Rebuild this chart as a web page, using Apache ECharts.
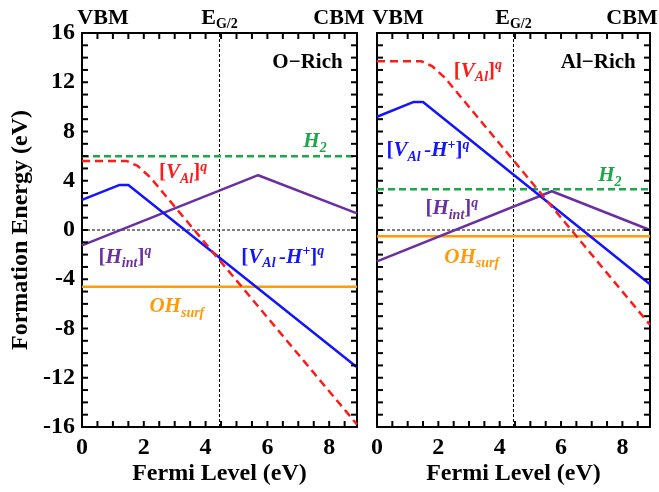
<!DOCTYPE html>
<html>
<head>
<meta charset="utf-8">
<script src="https://cdn.jsdelivr.net/npm/echarts@6/dist/echarts.min.js"></script>
<style>html,body{margin:0;padding:0;background:#fff;}#c{width:659px;height:492px;}</style>
</head>
<body>
<div id="c"></div>
<script>
// ---- data ----
const bandGap = 8.9;
const midGap = 4.45;
const xLabelStep = 2;
const yLabelStep = 4;
const yRange = [-16, 16];
const xTickValues = [0.5, 1, 1.5, 2, 2.5, 3, 3.5, 4, 4.5, 5, 5.5, 6, 6.5, 7, 7.5, 8, 8.5];
const yTickValues = [-15, -14, -13, -12, -11, -10, -9, -8, -7, -6, -5, -4, -3, -2, -1, 0,
                     1, 2, 3, 4, 5, 6, 7, 8, 9, 10, 11, 12, 13, 14, 15];
const topLabels = ['VBM', 'E', 'G/2', 'CBM'];
const panelNames = ['O\u2212Rich', 'Al\u2212Rich'];
const xTitle = 'Fermi Level (eV)';
const yTitle = 'Formation Energy (eV)';

const oRich_VAl  = [[0, 5.6], [1.45, 5.6], [1.8, 5.2], [2.2, 4.3], [8.9, -15.8]];
const oRich_VAlH = [[0, 2.45], [1.2, 3.65], [1.5, 3.65], [8.9, -11.15]];
const oRich_Hint = [[0, -1.25], [5.7, 4.45], [8.9, 1.35]];
const oRich_H2 = 6.0;
const oRich_OH = -4.6;

const alRich_VAl  = [[0, 13.7], [1.45, 13.7], [1.8, 13.3], [2.2, 12.4], [8.9, -7.7]];
const alRich_VAlH = [[0, 9.2], [1.2, 10.4], [1.5, 10.4], [8.9, -4.4]];
const alRich_Hint = [[0, -2.55], [5.7, 3.15], [8.9, 0.0]];
const alRich_H2 = 3.3;
const alRich_OH = -0.5;

// ---- style ----
const SERIF = '"Liberation Serif", "Times New Roman", serif';
const C = { red: '#ff1a1a', blue: '#1414ff', purple: '#6b2fa3', green: '#1ea64a', orange: '#ff9a0a' };
const TICK_LEN = 6;

const chart = echarts.init(document.getElementById('c'), null, { renderer: 'canvas' });

const grids = [
  { left: 82, top: 33, width: 275, height: 394 },
  { left: 377, top: 33, width: 273, height: 394 }
];

const lineSt = () => ({ show: true, onZero: false, lineStyle: { color: '#000', width: 2 } });
const labelFont = () => ({ fontFamily: SERIF, fontWeight: 'bold', fontSize: 24, color: '#000' });

function xAxes(gi) {
  const b = () => ({ type: 'value', gridIndex: gi, min: 0, max: bandGap, interval: xLabelStep, axisLine: lineSt(), axisTick: { show: false }, splitLine: { show: false } });
  return [
    Object.assign(b(), { position: 'bottom', axisLabel: Object.assign({ show: true, margin: 9, showMaxLabel: false }, labelFont()) }),
    Object.assign(b(), { position: 'top', axisLabel: { show: false } })
  ];
}
function yAxes(gi) {
  const b = () => ({ type: 'value', gridIndex: gi, min: yRange[0], max: yRange[1], interval: yLabelStep, axisLine: lineSt(), axisTick: { show: false }, splitLine: { show: false } });
  return [
    Object.assign(b(), { position: 'left', axisLabel: Object.assign({ show: gi === 0, margin: 7 }, labelFont()) }),
    Object.assign(b(), { position: 'right', axisLabel: { show: false } })
  ];
}

const xAxis = [...xAxes(0), ...xAxes(1)];
const yAxis = [...yAxes(0), ...yAxes(1)];

function refLines(gi) {
  const xi = gi * 2, yi = gi * 2;
  const st = { color: '#000', width: 1, type: [3, 2] };
  return [
    { type: 'line', xAxisIndex: xi, yAxisIndex: yi, data: [[midGap, yRange[0]], [midGap, yRange[1]]], symbol: 'none', lineStyle: st, z: 1, silent: true },
    { type: 'line', xAxisIndex: xi, yAxisIndex: yi, data: [[0, 0], [bandGap, 0]], symbol: 'none', lineStyle: st, z: 1, silent: true }
  ];
}
function dataSeries(gi, vAl, vAlH, hInt, h2, oh) {
  const xi = gi * 2, yi = gi * 2;
  const mk = (data, color, type, width, z) => ({
    type: 'line', xAxisIndex: xi, yAxisIndex: yi, data, symbol: 'none', clip: true,
    lineStyle: { color, width, type }, z, silent: true, animation: false
  });
  return [
    mk([[0, oh], [bandGap, oh]], C.orange, 'solid', 2.5, 2),
    mk(hInt, C.purple, 'solid', 2.5, 3),
    mk([[0, h2], [bandGap, h2]], C.green, [7, 4], 2.5, 4),
    mk(vAlH, C.blue, 'solid', 2.5, 5),
    mk(vAl, C.red, [8, 5], 2.5, 6)
  ];
}

const series = [
  ...refLines(0), ...dataSeries(0, oRich_VAl, oRich_VAlH, oRich_Hint, oRich_H2, oRich_OH),
  ...refLines(1), ...dataSeries(1, alRich_VAl, alRich_VAlH, alRich_Hint, alRich_H2, alRich_OH)
];

chart.setOption({
  animation: false,
  backgroundColor: '#fff',
  grid: grids,
  xAxis, yAxis, series
});

// ---- annotations (anchors in data coords) ----
function richFor(color) {
  const f = { fontFamily: SERIF, fontWeight: 'bold', fill: color };
  return {
    b: Object.assign({ fontSize: 21, lineHeight: 26, verticalAlign: 'middle' }, f),
    i: Object.assign({ fontSize: 21, lineHeight: 26, fontStyle: 'italic', verticalAlign: 'middle' }, f),
    sub: Object.assign({ fontSize: 14, lineHeight: 14, fontStyle: 'italic', verticalAlign: 'bottom' }, f),
    sup: Object.assign({ fontSize: 14, lineHeight: 14, fontStyle: 'italic', verticalAlign: 'top' }, f),
    supn: Object.assign({ fontSize: 14, lineHeight: 14, verticalAlign: 'top' }, f)
  };
}
const TXT = {
  vAl: '{b|[}{i|V}{sub|Al}{b|]}{sup|q}',
  vAlH: '{b|[}{i|V}{sub|Al }{i|-H}{supn|+}{b|]}{sup|q}',
  hInt: '{b|[}{i|H}{sub|int}{b|]}{sup|q}',
  h2: '{i|H}{sub|2}',
  oh: '{i|OH}{sub|surf}'
};
const annos = [
  { g: 0, p: [7.54, 7.15], t: 'h2', c: C.green },
  { g: 0, p: [3.27, 4.63], t: 'vAl', c: C.red },
  { g: 0, p: [1.39, -2.2], t: 'hInt', c: C.purple },
  { g: 0, p: [6.5, -2.2], t: 'vAlH', c: C.blue },
  { g: 0, p: [3.07, -6.26], t: 'oh', c: C.orange },
  { g: 1, p: [3.29, 12.85], t: 'vAl', c: C.red },
  { g: 1, p: [1.66, 6.42], t: 'vAlH', c: C.blue },
  { g: 1, p: [7.59, 4.39], t: 'h2', c: C.green },
  { g: 1, p: [2.44, 1.71], t: 'hInt', c: C.purple },
  { g: 1, p: [3.09, -2.2], t: 'oh', c: C.orange }
];

const graphic = [];
annos.forEach(a => {
  const px = chart.convertToPixel({ gridIndex: a.g }, a.p);
  graphic.push({
    type: 'text', x: px[0], y: px[1], z: 20, silent: true,
    style: { text: TXT[a.t], rich: richFor(a.c), fill: a.c, align: 'center', verticalAlign: 'middle' }
  });
});

// axis ticks (inside, on all four sides), positioned through the axes' scales
function tickRect(x, y, w, h) {
  return { type: 'rect', z: 30, silent: true, shape: { x, y, width: w, height: h }, style: { fill: '#000' } };
}
[0, 1].forEach(g => {
  xTickValues.forEach(v => {
    const b = chart.convertToPixel({ gridIndex: g }, [v, yRange[0]]);
    const t = chart.convertToPixel({ gridIndex: g }, [v, yRange[1]]);
    graphic.push(tickRect(b[0] - 1, b[1] - TICK_LEN, 2, TICK_LEN));
    graphic.push(tickRect(t[0] - 1, t[1], 2, TICK_LEN));
  });
  yTickValues.forEach(v => {
    const l = chart.convertToPixel({ gridIndex: g }, [0, v]);
    const r = chart.convertToPixel({ gridIndex: g }, [bandGap, v]);
    graphic.push(tickRect(l[0], l[1] - 1, TICK_LEN, 2));
    graphic.push(tickRect(r[0] - TICK_LEN, r[1] - 1, TICK_LEN, 2));
  });
});

const titleSt = { fontFamily: SERIF, fontWeight: 'bold', fontSize: 24, fill: '#000', align: 'center', verticalAlign: 'middle' };

[0, 1].forEach(g => {
  const nm = chart.convertToPixel({ gridIndex: g }, [8.5, 13.6]);
  graphic.push({
    type: 'text', x: nm[0] - 2, y: nm[1], z: 20, silent: true,
    style: { text: panelNames[g], align: 'right', verticalAlign: 'middle', fontFamily: SERIF, fontWeight: 'bold', fontSize: 21, fill: '#000' }
  });
  const p0 = chart.convertToPixel({ gridIndex: g }, [0, yRange[1]]);
  const pm = chart.convertToPixel({ gridIndex: g }, [midGap, yRange[1]]);
  const p1 = chart.convertToPixel({ gridIndex: g }, [bandGap, yRange[1]]);
  const pb = chart.convertToPixel({ gridIndex: g }, [midGap, yRange[0]]);
  const ts = { fontFamily: SERIF, fontWeight: 'bold', fontSize: 22, fill: '#000', verticalAlign: 'middle', align: 'center' };
  graphic.push({ type: 'text', x: p0[0] + 21, y: p0[1] - 15, z: 20, silent: true, style: Object.assign({ text: topLabels[0] }, ts) });
  graphic.push({ type: 'text', x: p1[0] - 18, y: p1[1] - 15, z: 20, silent: true, style: Object.assign({ text: topLabels[3] }, ts) });
  graphic.push({
    type: 'text', x: pm[0], y: pm[1] - 15, z: 20, silent: true,
    style: {
      text: '{e|' + topLabels[1] + '}{s|' + topLabels[2] + '}', align: 'center', verticalAlign: 'middle',
      rich: {
        e: { fontFamily: SERIF, fontWeight: 'bold', fontSize: 22, lineHeight: 26, verticalAlign: 'middle', fill: '#000' },
        s: { fontFamily: SERIF, fontWeight: 'bold', fontSize: 14, lineHeight: 14, verticalAlign: 'bottom', fill: '#000' }
      }
    }
  });
  graphic.push({ type: 'text', x: (p0[0] + p1[0]) / 2, y: pb[1] + 47, z: 20, silent: true, style: Object.assign({ text: xTitle }, titleSt) });
});

const yc = chart.convertToPixel({ gridIndex: 0 }, [0, 0]);
graphic.push({ type: 'text', x: 21, y: yc[1], rotation: Math.PI / 2, z: 20, silent: true, style: Object.assign({ text: yTitle }, titleSt) });

chart.setOption({ graphic });
</script>
</body>
</html>
